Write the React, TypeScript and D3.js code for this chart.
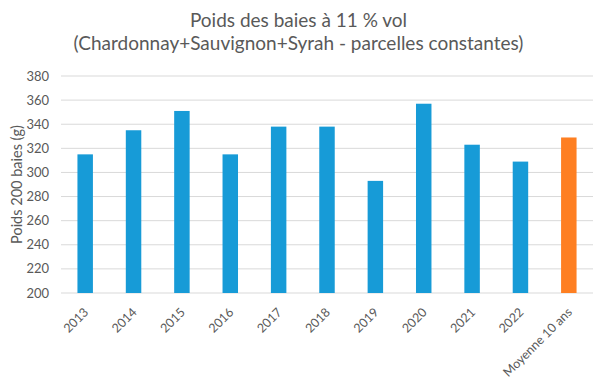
import React from "react";
import * as d3 from "d3";

const categories = ["2013", "2014", "2015", "2016", "2017", "2018", "2019", "2020", "2021", "2022", "Moyenne 10 ans"];
const poids = [315, 335, 351, 315, 338, 338, 293, 357, 323, 309, 329];
const yTicks = [200, 220, 240, 260, 280, 300, 320, 340, 360, 380];

const W = 597;
const H = 386;
const m = { left: 61, right: 4, top: 76, bottom: 93 };
const font = "Lato, 'Open Sans', sans-serif";
const grey = "#595959";

export default function App() {
  const x = d3.scaleBand().domain(categories).range([m.left, W - m.right]).paddingInner(0.68).paddingOuter(0.34);
  const y = d3.scaleLinear().domain([200, 380]).range([H - m.bottom, m.top]);

  return (
    <svg width={W} height={H} style={{ position: "absolute", left: 0, top: 0, background: "#fff" }}>
      <g fontFamily={font} fill={grey} textAnchor="middle" fontSize={19} style={{ whiteSpace: "pre" }}>
        <text x={298.5} y={27}>Poids des baies à 11 % vol</text>
        <text x={298.5} y={50}>(Chardonnay+Sauvignon+Syrah  - parcelles constantes)</text>
      </g>

      {yTicks.map(t => (
        <g key={t}>
          <line x1={m.left} x2={W - m.right} y1={y(t)} y2={y(t)} stroke="#d9d9d9" strokeWidth={1} />
          <text x={49} y={y(t)} dy="0.35em" textAnchor="end" fontFamily={font} fontSize={13} fill={grey}>
            {t}
          </text>
        </g>
      ))}

      {categories.map((c, i) => (
        <rect
          key={c}
          x={x(c)}
          y={y(poids[i])}
          width={x.bandwidth()}
          height={y(200) - y(poids[i])}
          fill={i === categories.length - 1 ? "#fe7f22" : "#179bd7"}
        />
      ))}

      {categories.map(c => {
        const cx = (x(c) as number) + x.bandwidth() / 2 + 4;
        return (
          <text
            key={c}
            transform={`translate(${cx},313) rotate(-45)`}
            textAnchor="end"
            fontFamily={font}
            fontSize={12.5}
            fill={grey}
          >
            {c}
          </text>
        );
      })}

      <text
        transform={`translate(17,${(y(200) + y(380)) / 2}) rotate(-90)`}
        textAnchor="middle"
        dy="0.35em"
        fontFamily={font}
        fontSize={14.5}
        fill={grey}
      >
        Poids 200 baies (g)
      </text>
    </svg>
  );
}
